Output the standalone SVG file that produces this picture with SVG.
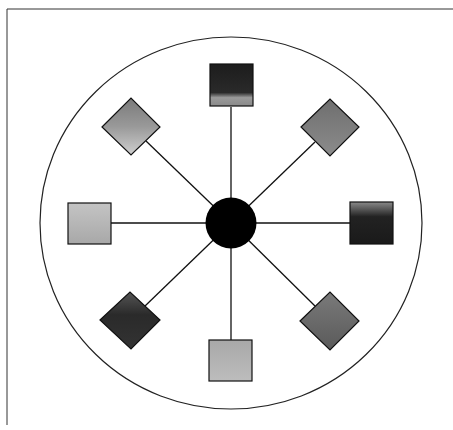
<svg xmlns="http://www.w3.org/2000/svg" width="453" height="430" viewBox="0 0 453 430">
<style>
.frame{stroke:#333;stroke-width:1;fill:none}
.ring{stroke:#222;stroke-width:1.2;fill:none}
.conn{stroke:#111;stroke-width:1.3}
.node{stroke:#111;stroke-width:1.2}
</style>
<defs>
<linearGradient id="gTop" x1="0" y1="0" x2="0" y2="1">
<stop offset="0" stop-color="#1c1c1c"/><stop offset="0.68" stop-color="#2a2a2a"/><stop offset="0.8" stop-color="#9a9a9a"/><stop offset="1" stop-color="#8a8a8a"/>
</linearGradient>
<linearGradient id="gRight" x1="0" y1="0" x2="0" y2="1">
<stop offset="0" stop-color="#8a8a8a"/><stop offset="0.18" stop-color="#555"/><stop offset="0.35" stop-color="#222"/><stop offset="1" stop-color="#1a1a1a"/>
</linearGradient>
<linearGradient id="gLeft" x1="0" y1="0" x2="0" y2="1">
<stop offset="0" stop-color="#c4c4c4"/><stop offset="1" stop-color="#a8a8a8"/>
</linearGradient>
<linearGradient id="gBottom" x1="0" y1="0" x2="0" y2="1">
<stop offset="0" stop-color="#a8a8a8"/><stop offset="1" stop-color="#bdbdbd"/>
</linearGradient>
<linearGradient id="gTL" x1="0" y1="0" x2="0" y2="1">
<stop offset="0" stop-color="#7a7a7a"/><stop offset="0.5" stop-color="#999"/><stop offset="1" stop-color="#cfcfcf"/>
</linearGradient>
<linearGradient id="gTR" x1="0" y1="0" x2="0" y2="1">
<stop offset="0" stop-color="#6e6e6e"/><stop offset="1" stop-color="#8c8c8c"/>
</linearGradient>
<linearGradient id="gBL" x1="0" y1="0" x2="0" y2="1">
<stop offset="0" stop-color="#555"/><stop offset="0.4" stop-color="#2a2a2a"/><stop offset="1" stop-color="#333"/>
</linearGradient>
<linearGradient id="gBR" x1="0" y1="0" x2="0" y2="1">
<stop offset="0" stop-color="#7a7a7a"/><stop offset="1" stop-color="#5a5a5a"/>
</linearGradient>
</defs>
<rect width="453" height="430" fill="#fff"/>
<path class="frame" d="M7,425 V9 H453"/>
<ellipse class="ring" cx="231" cy="223" rx="191" ry="186"/>
<g id="connectors">
<line class="conn" x1="231" y1="223" x2="231" y2="107"/>
<line class="conn" x1="231" y1="223" x2="231" y2="340"/>
<line class="conn" x1="231" y1="223" x2="111" y2="223"/>
<line class="conn" x1="231" y1="223" x2="350" y2="223"/>
<line class="conn" x1="231" y1="223" x2="146" y2="141"/>
<line class="conn" x1="231" y1="223" x2="315" y2="142"/>
<line class="conn" x1="231" y1="223" x2="145" y2="306"/>
<line class="conn" x1="231" y1="223" x2="315" y2="306"/>
</g>
<g id="hub"><circle cx="231" cy="223" r="25.5" fill="#000"/></g>
<g id="n-top"><rect class="node" x="210" y="64" width="43" height="42" fill="url(#gTop)"/></g>
<g id="n-right"><rect class="node" x="350" y="202" width="43" height="42" fill="url(#gRight)"/></g>
<g id="n-left"><rect class="node" x="68" y="203" width="43" height="41" fill="url(#gLeft)"/></g>
<g id="n-bottom"><rect class="node" x="209" y="340" width="43" height="41" fill="url(#gBottom)"/></g>
<g id="n-tl"><polygon class="node" points="102,127 131,98 160,127 131,155" fill="url(#gTL)"/></g>
<g id="n-tr"><polygon class="node" points="301,127 330,99 359,127 330,156" fill="url(#gTR)"/></g>
<g id="n-bl"><polygon class="node" points="100,320 130,292 160,320 131,349" fill="url(#gBL)"/></g>
<g id="n-br"><polygon class="node" points="300,321 330,292 359,321 330,350" fill="url(#gBR)"/></g>
</svg>
